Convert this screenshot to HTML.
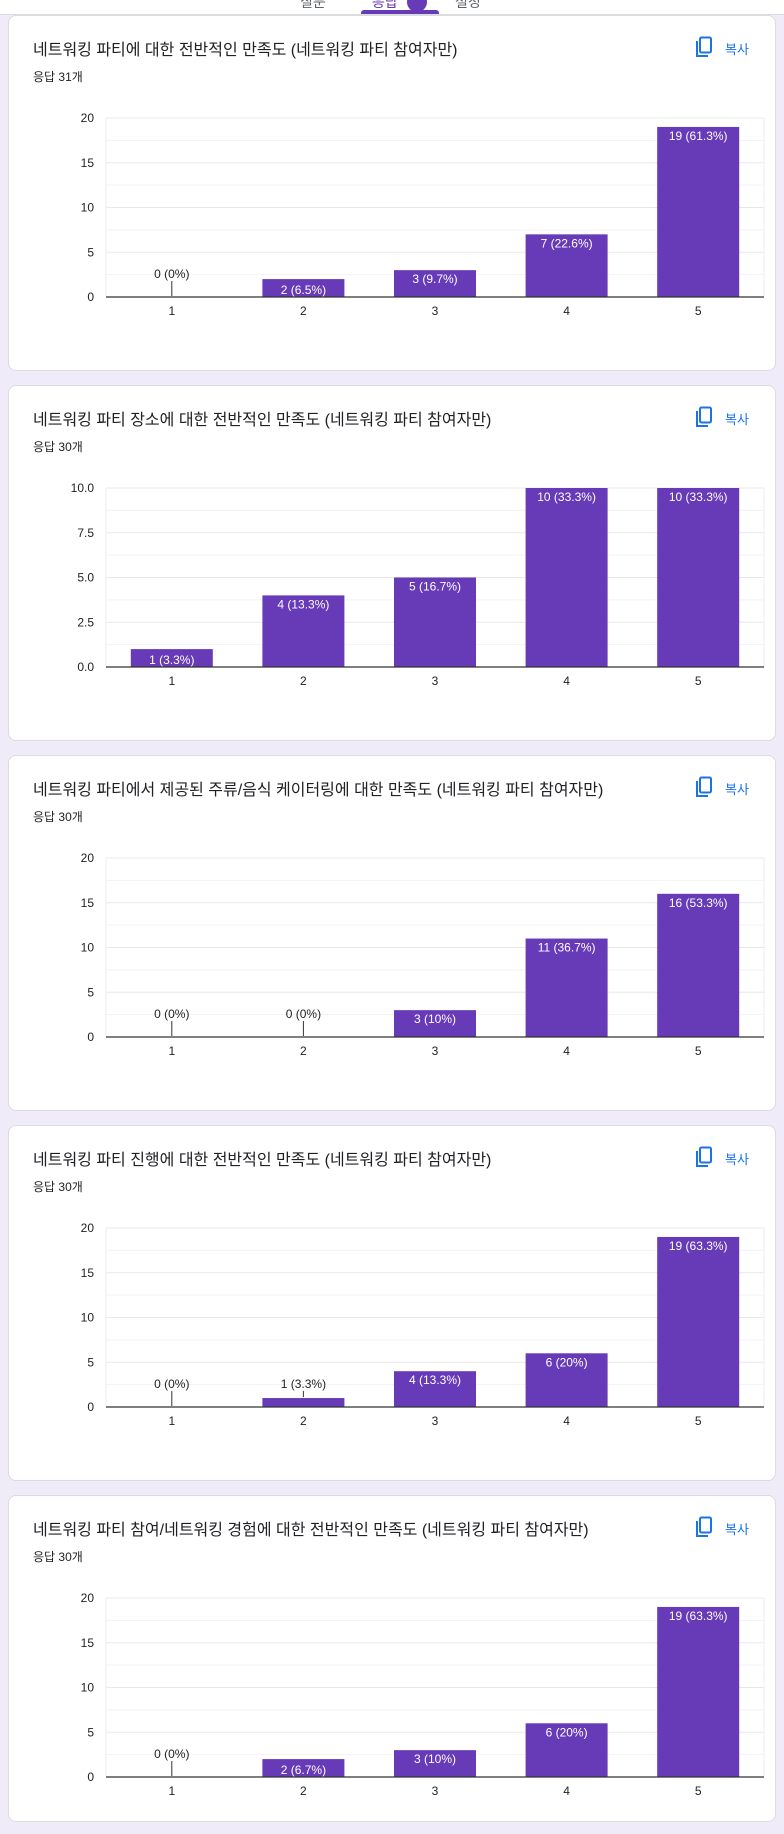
<!DOCTYPE html>
<html><head><meta charset="utf-8">
<style>
body{margin:0;width:784px;height:1834px;background:#f0ebf8;position:relative;overflow:hidden;font-family:"Liberation Sans","Noto Sans CJK KR",sans-serif;}
.top{position:absolute;left:0;top:0;width:784px;height:14px;background:#fff;border-bottom:1px solid #dadce0;overflow:hidden}
.tab{position:absolute;top:-8px;font-size:14px;color:#5f6368}
.card{position:absolute;left:8px;width:768px;background:#fff;border:1px solid #dadce0;border-radius:8px;box-sizing:border-box;overflow:hidden}
.title{position:absolute;left:24px;top:20px;font-size:16px;color:#202124;white-space:nowrap}
.sub{position:absolute;left:24px;top:52px;font-size:12px;color:#202124}
.copy{position:absolute;left:686px;top:20px;width:60px;height:24px;color:#1a73e8;font-size:13px}
svg.chart{position:absolute;left:0;top:0}
</style></head><body>
<div class="top">
<span class="tab" style="left:300px">질문</span>
<span class="tab" style="left:372px;color:#673ab7">응답</span>
<div style="position:absolute;left:407px;top:-8px;width:20px;height:20px;border-radius:50%;background:#673ab7"></div>
<span class="tab" style="left:455px">설정</span>
<div style="position:absolute;left:361px;top:10px;width:78px;height:4px;background:#673ab7;border-radius:3px 3px 0 0"></div>
</div>
<div id="cards"></div>
<script>
const categories=["1","2","3","4","5"];
const titles=["네트워킹 파티에 대한 전반적인 만족도 (네트워킹 파티 참여자만)","네트워킹 파티 장소에 대한 전반적인 만족도 (네트워킹 파티 참여자만)","네트워킹 파티에서 제공된 주류/음식 케이터링에 대한 만족도 (네트워킹 파티 참여자만)","네트워킹 파티 진행에 대한 전반적인 만족도 (네트워킹 파티 참여자만)","네트워킹 파티 참여/네트워킹 경험에 대한 전반적인 만족도 (네트워킹 파티 참여자만)"];
const responses=["응답 31개","응답 30개","응답 30개","응답 30개","응답 30개"];
const values1=[0,2,3,7,19];
const values2=[1,4,5,10,10];
const values3=[0,0,3,11,16];
const values4=[0,1,4,6,19];
const values5=[0,2,3,6,19];
const labels1=["0 (0%)","2 (6.5%)","3 (9.7%)","7 (22.6%)","19 (61.3%)"];
const labels2=["1 (3.3%)","4 (13.3%)","5 (16.7%)","10 (33.3%)","10 (33.3%)"];
const labels3=["0 (0%)","0 (0%)","3 (10%)","11 (36.7%)","16 (53.3%)"];
const labels4=["0 (0%)","1 (3.3%)","4 (13.3%)","6 (20%)","19 (63.3%)"];
const labels5=["0 (0%)","2 (6.7%)","3 (10%)","6 (20%)","19 (63.3%)"];
const ticks20=["0","5","10","15","20"];
const ticks10=["0.0","2.5","5.0","7.5","10.0"];
const allValues=[values1,values2,values3,values4,values5];
const allLabels=[labels1,labels2,labels3,labels4,labels5];
const allTicks=[ticks20,ticks10,ticks20,ticks20,ticks20];
const NS="http://www.w3.org/2000/svg";
const cardsEl=document.getElementById('cards');
function mk(tag,attrs,parent){const e=document.createElementNS(NS,tag);for(const k in attrs)e.setAttribute(k,attrs[k]);parent.appendChild(e);return e;}
for(let c=0;c<5;c++){
  const top=15+c*370, h=c==4?327:356;
  const card=document.createElement('div');card.className='card';
  card.style.top=top+'px';card.style.height=h+'px';
  
  
  card.innerHTML='<div class="title">'+titles[c]+'</div><div class="sub">'+responses[c]+'</div><div class="copy"><svg width="18" height="22" style="position:absolute;left:0;top:0"><rect x="5" y="1.5" width="11" height="15" rx="1.5" fill="none" stroke="#1a73e8" stroke-width="2"/><path d="M2 5 V20 H13" fill="none" stroke="#1a73e8" stroke-width="2"/></svg><span style="position:absolute;left:30px;top:3px">복사</span></div>';
  cardsEl.appendChild(card);
  const svg=mk('svg',{class:'chart',width:768,height:h},card);
  
  
  const ticks=allTicks[c], vals=allValues[c], labs=allLabels[c];
  const maxV=parseFloat(ticks[ticks.length-1]);
  const L=97,R=755,T=102,B=281;
  const y=v=>B-(v/maxV)*(B-T);
  const step=(R-L)/categories.length;
  const x=i=>L+step*(i+0.5);
  for(let i=0;i<ticks.length;i++){
    const tv=parseFloat(ticks[i]);
    if(i>0){const g=mk('line',{x1:L,x2:R,y1:y(tv),y2:y(tv),stroke:'#e8e8e8'},svg);}
    if(i<ticks.length-1){const m=mk('line',{x1:L,x2:R,y1:y(tv+maxV/8),y2:y(tv+maxV/8),stroke:'#f3f3f3'},svg);}
    const t=mk('text',{x:L-12,y:y(tv)+4,'text-anchor':'end','font-size':12,fill:'#222'},svg);t.textContent=ticks[i];
    
  }
  mk('line',{x1:L,x2:L,y1:T,y2:B,stroke:'#eee'},svg);
  mk('line',{x1:R,x2:R,y1:T,y2:B,stroke:'#eee'},svg);
  const bw=82;
  for(let i=0;i<categories.length;i++){
    const v=vals[i],yy=y(v),bh=B-yy;
    const r=mk('rect',{x:x(i)-bw/2,y:yy,width:bw,height:Math.max(bh,0.5),fill:'#673ab7'},svg);
    
    
    let lt;
    if(bh>=14){
      lt=mk('text',{x:x(i),y:bh>=18?yy+13:B-3,'text-anchor':'middle','font-size':12,fill:'#fff'},svg);
    }else{
      mk('line',{x1:x(i),x2:x(i),y1:yy-1,y2:B-16,stroke:'#333','stroke-width':1},svg);
      lt=mk('text',{x:x(i),y:B-19,'text-anchor':'middle','font-size':12,fill:'#222'},svg);
    }
    lt.textContent=labs[i];
    
    
    const xl=mk('text',{x:x(i),y:B+18,'text-anchor':'middle','font-size':12,fill:'#222'},svg);xl.textContent=categories[i];
    
  }
  const ax=mk('line',{x1:L,x2:R,y1:B,y2:B,stroke:'#333','stroke-width':1.2},svg);
  
}
</script>
</body></html>
